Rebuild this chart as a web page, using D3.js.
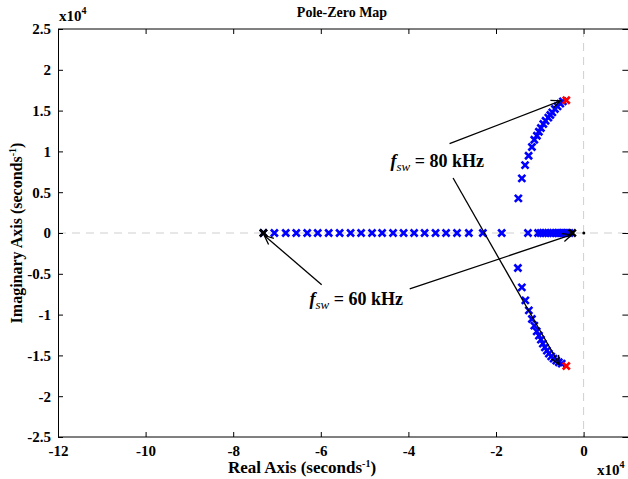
<!DOCTYPE html>
<html>
<head>
<meta charset="utf-8">
<script src="https://cdn.jsdelivr.net/npm/d3@7"></script>
<style>
  body { margin: 0; background: #fff; }
  text { font-family: "Liberation Serif", "Times New Roman", serif; font-weight: bold; }
</style>
</head>
<body>
<div id="chart"></div>
<script>
    // values in units of 1e4 s^-1
    var xTicks = [-12, -10, -8, -6, -4, -2, 0];
    var yTicks = [-2.5, -2, -1.5, -1, -0.5, 0, 0.5, 1, 1.5, 2, 2.5];

    // real-axis poles (blue)
    var realPoles = [-7.31, -7.06, -6.80, -6.56, -6.31, -6.07, -5.82, -5.57, -5.32, -5.08,
                     -4.83, -4.60, -4.35, -4.11, -3.87, -3.63, -3.38, -3.14, -2.89, -2.62,
                     -2.30, -1.87, -1.27, -1.04, -0.98, -0.925, -0.87, -0.81, -0.75, -0.70,
                     -0.64, -0.59, -0.55, -0.50, -0.46, -0.41, -0.37, -0.32];

    // complex branch, upper half (blue)
    var upperRe = [-1.49, -1.41, -1.336, -1.256, -1.18, -1.126, -1.066, -1.021, -0.975, -0.92,
                   -0.868, -0.806, -0.76, -0.715, -0.655, -0.594, -0.532, -0.473];
    var upperIm = [0.424, 0.669, 0.831, 0.947, 1.054, 1.143, 1.192, 1.241, 1.287, 1.336,
                   1.376, 1.413, 1.446, 1.478, 1.52, 1.551, 1.585, 1.613];

    // complex branch, lower half (blue)
    var lowerRe = [-1.50, -1.41, -1.33, -1.25, -1.18, -1.126, -1.07, -1.02, -0.975, -0.93,
                   -0.884, -0.838, -0.793, -0.74, -0.685, -0.625, -0.566, -0.50];
    var lowerIm = [-0.429, -0.666, -0.826, -0.948, -1.054, -1.136, -1.206, -1.258, -1.307, -1.356,
                   -1.401, -1.441, -1.478, -1.511, -1.539, -1.564, -1.584, -1.600];

    // fsw = 80 kHz end (red) and fsw = 60 kHz end (black)
    var redPoles = [{ re: -0.395, im: 1.627 }, { re: -0.395, im: -1.63 }];
    var blackPoles = [{ re: -7.31, im: 0 }, { re: -0.258, im: 0 }];
    var zeros = [{ re: 0.005, im: 0 }];

    var labels = [
      { text: "80", re: -4.41, im: 0.809,
        arrows: [[-3.06, 1.094, -0.53, 1.62], [-2.98, 0.674, -0.55, -1.615]] },
      { text: "60", re: -6.26, im: -0.879,
        arrows: [[-5.98, -0.634, -7.29, -0.03], [-3.97, -0.686, -0.27, -0.02]] }
    ];

    var svg = d3.select("#chart")
                .append("svg")
                .attr("width", 628)
                .attr("height", 479);

    var margin = { top: 29, left: 58, bottom: 437 };

    var xScale = d3.scaleLinear()
                   .domain([-12, 1])
                   .range([margin.left, 627.4]);

    var yScale = d3.scaleLinear()
                   .domain([-2.5, 2.5])
                   .range([margin.bottom, margin.top]);

    var x0 = xScale(-12), x1 = xScale(1), yTop = yScale(2.5), yBot = yScale(-2.5);

    // dashed lines through the origin
    svg.append("line")
       .attr("x1", x0).attr("x2", x1)
       .attr("y1", yScale(0)).attr("y2", yScale(0))
       .attr("stroke", "#cfcfcf").attr("stroke-dasharray", "8,6");
    svg.append("line")
       .attr("x1", xScale(0)).attr("x2", xScale(0))
       .attr("y1", yTop).attr("y2", yBot)
       .attr("stroke", "#cfcfcf").attr("stroke-dasharray", "8,6");

    var fmt = d => String(d);

    var bottomAxis = svg.append("g")
       .attr("transform", `translate(0, ${yBot})`)
       .call(d3.axisBottom(xScale).tickValues(xTicks).tickSizeInner(-5).tickSizeOuter(0).tickPadding(8).tickFormat(fmt));
    var topAxis = svg.append("g")
       .attr("transform", `translate(0, ${yTop})`)
       .call(d3.axisTop(xScale).tickValues(xTicks).tickSizeInner(-5).tickSizeOuter(0).tickFormat(""));
    var leftAxis = svg.append("g")
       .attr("transform", `translate(${x0}, 0)`)
       .call(d3.axisLeft(yScale).tickValues(yTicks).tickSizeInner(-5).tickSizeOuter(0).tickPadding(7).tickFormat(fmt));
    var rightAxis = svg.append("g")
       .attr("transform", `translate(${x1 + 1}, 0)`)
       .call(d3.axisRight(yScale).tickValues(yTicks).tickSizeInner(-6).tickSizeOuter(0).tickFormat(""));

    [bottomAxis, topAxis, leftAxis, rightAxis].forEach(g => {
      g.selectAll("text")
       .attr("fill", "#000")
       .style("font-size", "15px")
       .style("font-family", "'Liberation Serif', serif")
       .style("font-weight", "bold");
      g.selectAll("line").attr("stroke", "#000");
    });
    bottomAxis.select(".domain").attr("stroke", "#000").attr("d", `M${x0},0H${x1 + 2}`);
    topAxis.select(".domain").attr("stroke", "#000").attr("d", `M${x0},0H${x1 + 2}`);
    rightAxis.select(".domain").remove();

    // markers
    var cross = "M-3.5,-3.5L3.5,3.5M-3.5,3.5L3.5,-3.5";

    var bluePts = realPoles.map(r => ({ re: r, im: 0 }))
      .concat(upperRe.map((r, i) => ({ re: r, im: upperIm[i] })))
      .concat(lowerRe.map((r, i) => ({ re: r, im: lowerIm[i] })));

    function drawMarks(pts, color) {
      svg.append("g").selectAll("path")
         .data(pts)
         .enter()
         .append("path")
         .attr("d", cross)
         .attr("transform", d => `translate(${xScale(d.re)}, ${yScale(d.im)})`)
         .attr("fill", "none")
         .attr("stroke", color)
         .attr("stroke-width", 2.6);
    }
    drawMarks(bluePts, "#0000ff");
    drawMarks(redPoles, "#ff0000");
    drawMarks(blackPoles, "#000000");

    svg.append("g").selectAll("circle")
       .data(zeros)
       .enter()
       .append("circle")
       .attr("cx", d => xScale(d.re))
       .attr("cy", d => yScale(d.im))
       .attr("r", 1.5)
       .attr("fill", "#000");

    // annotations
    function arrow(a) {
      var xa = xScale(a[0]), ya = yScale(a[1]), xb = xScale(a[2]), yb = yScale(a[3]);
      var ang = Math.atan2(yb - ya, xb - xa), L = 10, w = 0.42;
      svg.append("line")
         .attr("x1", xa).attr("y1", ya).attr("x2", xb).attr("y2", yb)
         .attr("stroke", "#000").attr("stroke-width", 1.3);
      svg.append("path")
         .attr("d", `M${xb - L * Math.cos(ang - w)},${yb - L * Math.sin(ang - w)}L${xb},${yb}L${xb - L * Math.cos(ang + w)},${yb - L * Math.sin(ang + w)}`)
         .attr("fill", "none").attr("stroke", "#000").attr("stroke-width", 1.3);
    }

    labels.forEach(l => {
      l.arrows.forEach(arrow);
      var t = svg.append("text")
                 .attr("x", xScale(l.re))
                 .attr("y", yScale(l.im))
                 .style("font-size", "18px");
      t.append("tspan").style("font-style", "italic").text("f");
      t.append("tspan").style("font-style", "italic").style("font-weight", "normal")
       .style("font-size", "13px").attr("dy", 4).text("sw");
      t.append("tspan").attr("dy", -4).text(" = " + l.text + " kHz");
    });

    // titles
    svg.append("text")
       .attr("x", 342).attr("y", 17)
       .style("text-anchor", "middle").style("font-size", "14px")
       .text("Pole-Zero Map");

    var xl = svg.append("text")
       .attr("x", 302).attr("y", 473)
       .style("text-anchor", "middle").style("font-size", "17px");
    xl.append("tspan").text("Real Axis (seconds");
    xl.append("tspan").attr("dy", -6).style("font-size", "10px").text("-1");
    xl.append("tspan").attr("dy", 6).text(")");

    var yl = svg.append("text")
       .attr("transform", `translate(22, ${yScale(0)}) rotate(-90)`)
       .style("text-anchor", "middle").style("font-size", "16px");
    yl.append("tspan").text("Imaginary Axis (seconds");
    yl.append("tspan").attr("dy", -6).style("font-size", "10px").text("-1");
    yl.append("tspan").attr("dy", 6).text(")");

    function exponent(x, y) {
      var e = svg.append("text").attr("x", x).attr("y", y).style("font-size", "15px");
      e.append("tspan").text("x10");
      e.append("tspan").attr("dy", -7).style("font-size", "10px").text("4");
    }
    exponent(59, 21);
    exponent(597, 475);
</script>
</body>
</html>
